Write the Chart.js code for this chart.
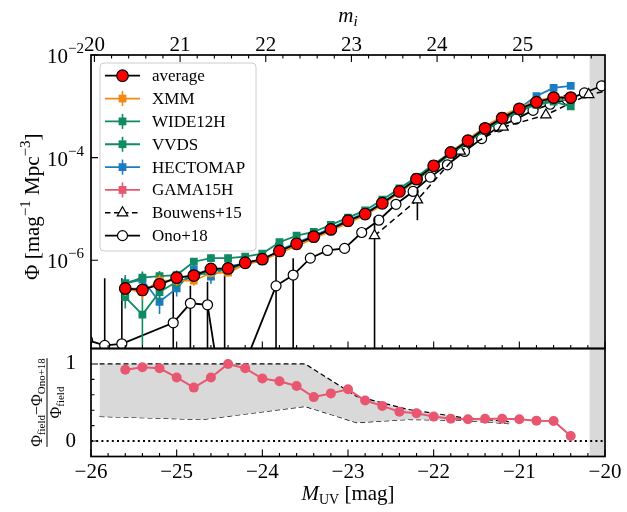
<!DOCTYPE html>
<html>
<head>
<meta charset="utf-8">
<script src="https://cdn.jsdelivr.net/npm/chart.js@4.4.0/dist/chart.umd.min.js"></script>
<style>
  html, body { margin: 0; padding: 0; background: #fff; }
</style>
</head>
<body>
<canvas id="lf" width="627" height="512"></canvas>
<script>
// M_UV bins of the field luminosity functions
const fieldM = [-25.6, -25.4, -25.2, -25.0, -24.8, -24.6, -24.4, -24.2, -24.0, -23.8, -23.6, -23.4, -23.2,
  -23.0, -22.8, -22.6, -22.4, -22.2, -22.0, -21.8, -21.6, -21.4, -21.2, -21.0, -20.8, -20.6, -20.4];

// log10 Phi  [mag^-1 Mpc^-3]
const avgLog  = [-6.55, -6.58, -6.47, -6.34, -6.30, -6.17, -6.16, -6.05, -5.98, -5.82, -5.68, -5.54, -5.40,
  -5.23, -5.10, -4.89, -4.66, -4.42, -4.16, -3.90, -3.67, -3.43, -3.23, -3.05, -2.92, -2.83, -2.83];
const xmmLog  = [-6.56, -6.62, -6.40, -6.40, -6.40, -6.25, -6.24, -6.08, -6.00, -5.86, -5.72, -5.58, -5.43,
  -5.27, -5.13, -4.92, -4.68, -4.43, -4.16, -3.89, -3.65, -3.40, -3.19, -3.02, -2.89, -2.82, -2.81];
const wideLog = [-6.45, -6.34, -6.31, -6.29, -6.03, -5.96, -5.96, -5.93, -5.87, -5.65, -5.52, -5.45, -5.31,
  -5.17, -5.03, -4.82, -4.60, -4.38, -4.13, -3.90, -3.69, -3.46, -3.27, -3.09, -2.97, -2.91, -3.00];
const vvdsLog = [-6.72, -7.06, -6.62, -6.42, -6.33, -6.20, -6.19, -6.07, -5.99, -5.83, -5.69, -5.56, -5.41,
  -5.25, -5.11, -4.90, -4.68, -4.44, -4.18, -3.93, -3.70, -3.46, -3.26, -3.09, -2.96, -2.88, -2.88];
const hectLog = [-6.45, -6.38, -6.81, -6.55, -6.19, -6.32, -6.12, -6.06, -6.02, -5.80, -5.66, -5.52, -5.38,
  -5.22, -5.08, -4.88, -4.65, -4.41, -4.15, -3.89, -3.65, -3.42, -3.22, -3.04, -2.80, -2.64, -2.60];
const gamaLog = [-6.55, -6.56, -6.48, -6.34, -6.30, -6.17, -6.16, -6.05, -5.98, -5.83, -5.69, -5.55, -5.41,
  -5.24, -5.10, -4.89, -4.66, -4.42, -4.16, -3.90, -3.67, -3.43, -3.23, -3.06, -2.93, -2.84, -2.83];

// 1 sigma errors in dex
const xmmErr  = [0.14, 0.15, 0.11, 0.10, 0.10, 0.08, 0.08, 0.06, 0.05, 0.05, 0.04, 0.04, 0.03, 0.03,
  0.03, 0.02, 0.02, 0.02, 0.02, 0.02, 0.02, 0.02, 0.02, 0.02, 0.03, 0.03, 0.04];
const wideErr = [0.12, 0.12, 0.10, 0.09, 0.07, 0.07, 0.07, 0.06, 0.05, 0.05, 0.04, 0.04, 0.03, 0.03,
  0.03, 0.02, 0.02, 0.02, 0.02, 0.02, 0.02, 0.02, 0.03, 0.03, 0.03, 0.04, 0.05];
const vvdsErr = [0.22, 0.60, 0.20, 0.14, 0.12, 0.10, 0.09, 0.07, 0.06, 0.05, 0.05, 0.04, 0.04, 0.03,
  0.03, 0.03, 0.02, 0.02, 0.02, 0.02, 0.02, 0.02, 0.03, 0.03, 0.03, 0.04, 0.05];
const hectErr = [0.16, 0.14, 0.24, 0.16, 0.12, 0.14, 0.10, 0.08, 0.07, 0.06, 0.05, 0.04, 0.04, 0.03,
  0.03, 0.03, 0.02, 0.02, 0.02, 0.02, 0.02, 0.03, 0.03, 0.03, 0.04, 0.05, 0.06];
const gamaErr = [0.10, 0.10, 0.09, 0.08, 0.07, 0.06, 0.06, 0.05, 0.04, 0.04, 0.03, 0.03, 0.03, 0.02,
  0.02, 0.02, 0.02, 0.02, 0.02, 0.02, 0.02, 0.02, 0.02, 0.02, 0.03, 0.03, 0.04];

// Ono+18 (log10 Phi, with upper / lower ends of the error bar, -12 = consistent with zero)
const onoM   = [-26.04, -25.84, -25.64, -25.04, -24.84, -24.64, -24.44, -23.84, -23.64, -23.44, -23.24, -23.04, -22.84,
  -22.64, -22.44, -22.24, -22.04, -21.84, -21.64, -21.44, -21.24, -21.04, -20.84, -20.64, -20.44, -20.24, -20.04];
const onoLog = [-7.56, -7.66, -7.63, -7.22, -6.84, -6.87, -9.00, -6.50, -6.29, -5.96, -5.81, -5.77, -5.46,
  -5.22, -4.91, -4.66, -4.38, -4.14, -3.88, -3.63, -3.40, -3.25, -3.08, -2.96, -2.87, -2.74, -2.60];
const onoUp  = [null, -6.35, -6.35, -6.30, -6.50, -6.42, -6.22, -5.66, -5.96, -5.90, -5.76, -5.72, -5.42,
  -5.19, -4.88, -4.64, -4.36, -4.12, -3.86, -3.61, -3.38, -3.23, -3.06, -2.94, -2.85, -2.72, -2.58];
const onoLo  = [null, -12, -12, -12, -12, -12, -12, -12, -12, -6.03, -5.87, -5.83, -5.50,
  -5.25, -4.94, -4.68, -4.40, -4.16, -3.90, -3.65, -3.42, -3.27, -3.10, -2.98, -2.89, -2.76, -2.62];

// Bouwens+15, z~4
const bouM   = [-22.69, -22.19, -21.69, -21.19, -20.69, -20.19, -19.69];
const bouPhi = [0.000003, 0.000015, 0.000134, 0.000393, 0.000678, 0.001696, 0.002475];
const bouErr = [0.000004, 0.000009, 0.000023, 0.000034, 0.000063, 0.000108, 0.000162];

// lower panel: (Phi_field - Phi_Ono+18) / Phi_field
const ratio = [0.925, 0.956, 0.943, 0.825, 0.693, 0.825, 1.0, 0.943, 0.811, 0.776, 0.715, 0.570, 0.618,
  0.671, 0.526, 0.456, 0.380, 0.360, 0.317, 0.290, 0.283, 0.290, 0.290, 0.283, 0.265, 0.260, 0.065];
const bandM  = [-25.9, -24.7, -23.5, -22.9, -22.3, -21.7, -21.1];
const bandHi = [1.0, 1.0, 1.0, 0.58, 0.41, 0.31, 0.25];
const bandLo = [0.32, 0.28, 0.45, 0.24, 0.28, 0.27, 0.225];

const xTicks = [-26, -25, -24, -23, -22, -21, -20];
const mTicks = [20, 21, 22, 23, 24, 25];
const phiTicks = [1e-6, 1e-4, 1e-2];
const ratioTicks = [0, 1];
const maskRange = [-20.18, -20];
const mOffset = 45.96;   // m_i = M_UV + mOffset

const SERIF = "'Liberation Serif', 'Times New Roman', serif";
Chart.defaults.font.family = SERIF;
Chart.defaults.color = '#000';

function logPts(xs, logs) {
  return xs.map((x, i) => ({ x: x, y: Math.pow(10, logs[i]) }));
}

function field(label, color, logs, err) {
  return {
    label: label,
    data: logPts(fieldM, logs),
    borderColor: color,
    backgroundColor: color,
    borderWidth: 1.8,
    pointStyle: 'rect',
    pointRadius: 5.5,
    pointBorderWidth: 0,
    pointBackgroundColor: color,
    errLo: logs.map((v, i) => Math.pow(10, v - err[i])),
    errHi: logs.map((v, i) => Math.pow(10, v + err[i])),
    errColor: color,
    legendErr: true,
    xAxisID: 'x',
    yAxisID: 'y'
  };
}

const datasets = [
  {
    label: 'average',
    data: logPts(fieldM, avgLog),
    borderColor: '#000',
    borderWidth: 1.8,
    pointStyle: 'circle',
    pointRadius: 5.8,
    pointBackgroundColor: '#ff0000',
    pointBorderColor: '#000',
    pointBorderWidth: 1.2,
    xAxisID: 'x', yAxisID: 'y'
  },
  field('XMM', '#f08a12', xmmLog, xmmErr),
  field('WIDE12H', '#0f8a62', wideLog, wideErr),
  field('VVDS', '#0f8a62', vvdsLog, vvdsErr),
  field('HECTOMAP', '#1b7cc1', hectLog, hectErr),
  field('GAMA15H', '#e8576f', gamaLog, gamaErr),
  {
    label: 'Bouwens+15',
    data: bouM.map((x, i) => ({ x: x, y: bouPhi[i] })),
    borderColor: '#000',
    borderWidth: 1.5,
    borderDash: [6, 4],
    pointStyle: 'triangle',
    pointRadius: 6,
    pointBackgroundColor: '#fff',
    pointBorderColor: '#000',
    pointBorderWidth: 1.2,
    errLo: bouPhi.map((v, i) => Math.max(v - bouErr[i], 1e-12)),
    errHi: bouPhi.map((v, i) => v + bouErr[i]),
    errColor: '#000',
    xAxisID: 'x', yAxisID: 'y'
  },
  {
    label: 'Ono+18',
    data: logPts(onoM, onoLog),
    borderColor: '#000',
    borderWidth: 1.8,
    pointStyle: 'circle',
    pointRadius: 5,
    pointBackgroundColor: '#fff',
    pointBorderColor: '#000',
    pointBorderWidth: 1.2,
    errLo: onoLo.map(v => v === null ? null : Math.pow(10, v)),
    errHi: onoUp.map(v => v === null ? null : Math.pow(10, v)),
    errColor: '#000',
    xAxisID: 'x', yAxisID: 'y'
  },
  // lower panel
  {
    label: 'ratio',
    data: fieldM.map((x, i) => ({ x: x, y: ratio[i] })),
    borderColor: '#e8576f',
    borderWidth: 2,
    pointStyle: 'circle',
    pointRadius: 5,
    pointBackgroundColor: '#e8576f',
    pointBorderWidth: 0,
    hideLegend: true,
    xAxisID: 'x', yAxisID: 'y2'
  },
  {
    label: 'band_hi',
    data: bandM.map((x, i) => ({ x: x, y: bandHi[i] })),
    borderColor: '#000',
    borderWidth: 1.2,
    borderDash: [5, 3],
    pointRadius: 0,
    fill: '+1',
    backgroundColor: '#d9d9d9',
    hideLegend: true,
    xAxisID: 'x', yAxisID: 'y2'
  },
  {
    label: 'band_lo',
    data: bandM.map((x, i) => ({ x: x, y: bandLo[i] })),
    borderColor: '#000',
    borderWidth: 1.2,
    borderDash: [5, 3],
    pointRadius: 0,
    fill: false,
    hideLegend: true,
    xAxisID: 'x', yAxisID: 'y2'
  },
  {
    label: 'zero',
    data: [{ x: xTicks[0], y: 0 }, { x: xTicks[xTicks.length - 1], y: 0 }],
    borderColor: '#000',
    borderWidth: 2,
    borderDash: [2, 3.2],
    pointRadius: 0,
    hideLegend: true,
    xAxisID: 'x', yAxisID: 'y2'
  }
];

function minus(v) {
  return v < 0 ? '\u2212' + Math.abs(v) : String(v);
}

function setTicks(list) {
  return function (scale) {
    scale.ticks = list.map(v => ({ value: v }));
  };
}

function fixW(w) { return function (s) { s.width = w; }; }
function fixH(h) { return function (s) { s.height = h; }; }

// rich text helpers (sub/superscripts)
function richWidth(ctx, segs) {
  let w = 0;
  segs.forEach(s => { ctx.font = s.font; w += ctx.measureText(s.t).width; });
  return w;
}
function richDraw(ctx, segs, x, y) {
  segs.forEach(s => {
    ctx.font = s.font;
    ctx.fillText(s.t, x, y + (s.dy || 0));
    x += ctx.measureText(s.t).width;
  });
}
const F = (px, it) => (it ? 'italic ' : '') + px + 'px ' + SERIF;

const deco = {
  id: 'deco',
  beforeDatasetsDraw(chart) {
    const ctx = chart.ctx, x = chart.scales.x, a = chart.chartArea;
    const x0 = x.getPixelForValue(maskRange[0]), x1 = x.getPixelForValue(maskRange[1]);
    ctx.save();
    ctx.fillStyle = '#d9d9d9';
    ctx.fillRect(x0, a.top, x1 - x0, a.bottom - a.top);
    ctx.restore();
  },
  beforeDatasetDraw(chart, args) {
    const ds = chart.data.datasets[args.index];
    if (!ds.errLo) return;
    const ctx = chart.ctx, xs = args.meta.xScale, ys = args.meta.yScale;
    ctx.save();
    ctx.beginPath();
    ctx.rect(xs.left, ys.top, xs.right - xs.left, ys.bottom - ys.top);
    ctx.clip();
    ctx.strokeStyle = ds.errColor;
    ctx.lineWidth = 1.6;
    ctx.beginPath();
    ds.data.forEach((p, i) => {
      const lo = ds.errLo[i], hi = ds.errHi[i];
      if (lo === null || hi === null) return;
      const px = xs.getPixelForValue(p.x);
      ctx.moveTo(px, Math.min(ys.getPixelForValue(lo), ys.bottom + 5));
      ctx.lineTo(px, ys.getPixelForValue(hi));
    });
    ctx.stroke();
    ctx.restore();
  },
  afterDraw(chart) {
    const ctx = chart.ctx, s = chart.scales;
    const x = s.x, xt = s.xTop, y = s.y, y2 = s.y2;
    const L = x.left, R = x.right;
    ctx.save();

    // inward ticks
    ctx.strokeStyle = '#000';
    ctx.lineWidth = 1.1;
    ctx.beginPath();
    for (let k = 0; k <= 30; k++) {
      const v = xTicks[0] + k * 0.2;
      const len = k % 5 === 0 ? 7 : 3.5;
      const px = x.getPixelForValue(v);
      ctx.moveTo(px, y2.bottom); ctx.lineTo(px, y2.bottom - len);
      ctx.moveTo(px, y.bottom); ctx.lineTo(px, y.bottom - len);
    }
    for (let k = 0; k <= 30; k++) {
      const v = mTicks[0] + k * 0.2;
      const px = xt.getPixelForValue(v);
      if (px < L || px > R) continue;
      ctx.moveTo(px, y.top); ctx.lineTo(px, y.top + (k % 5 === 0 ? 7 : 3.5));
    }
    phiTicks.forEach(v => {
      const py = y.getPixelForValue(v);
      ctx.moveTo(L, py); ctx.lineTo(L + 7, py);
    });
    for (let k = 0; k <= 5; k++) {
      const py = y2.getPixelForValue(k * 0.2);
      ctx.moveTo(L, py); ctx.lineTo(L + (k % 5 === 0 ? 7 : 3.5), py);
    }
    ctx.stroke();

    // frames
    ctx.lineWidth = 1.7;
    ctx.strokeRect(L, y.top, R - L, y.bottom - y.top);
    ctx.strokeRect(L, y2.top, R - L, y2.bottom - y2.top);

    // log tick labels 10^-n
    ctx.fillStyle = '#000';
    ctx.textAlign = 'left';
    ctx.textBaseline = 'alphabetic';
    phiTicks.forEach(v => {
      const py = y.getPixelForValue(v);
      const segs = [{ t: '10', font: F(21) }, { t: minus(Math.round(Math.log10(v))), font: F(15), dy: -10 }];
      const w = richWidth(ctx, segs);
      richDraw(ctx, segs, L - 7 - w, py + 8);
    });

    // axis titles
    let segs = [{ t: 'M', font: F(21, true) }, { t: 'UV', font: F(14), dy: 4 }, { t: ' [mag]', font: F(21) }];
    richDraw(ctx, segs, (L + R) / 2 - richWidth(ctx, segs) / 2, 500);

    segs = [{ t: 'm', font: F(21, true) }, { t: 'i', font: F(15, true), dy: 4 }];
    richDraw(ctx, segs, (L + R) / 2 - richWidth(ctx, segs) / 2, 22);

    ctx.save();
    ctx.translate(39, (y.top + y.bottom) / 2 + 5);
    ctx.rotate(-Math.PI / 2);
    segs = [{ t: '\u03A6 [mag', font: F(21) }, { t: '\u22121', font: F(15), dy: -9 },
      { t: ' Mpc', font: F(21) }, { t: '\u22123', font: F(15), dy: -9 }, { t: ']', font: F(21) }];
    richDraw(ctx, segs, -richWidth(ctx, segs) / 2, 0);
    ctx.restore();

    ctx.save();
    ctx.translate(47, (y2.top + y2.bottom) / 2);
    ctx.rotate(-Math.PI / 2);
    const num = [{ t: '\u03A6', font: F(16) }, { t: 'field', font: F(11), dy: 3 },
      { t: '\u2212\u03A6', font: F(16) }, { t: 'Ono+18', font: F(11), dy: 3 }];
    const den = [{ t: '\u03A6', font: F(16) }, { t: 'field', font: F(11), dy: 3 }];
    const nw = richWidth(ctx, num), dw = richWidth(ctx, den);
    richDraw(ctx, num, -nw / 2, -5);
    richDraw(ctx, den, -dw / 2, 14);
    ctx.lineWidth = 1;
    ctx.beginPath(); ctx.moveTo(-nw / 2, 0); ctx.lineTo(nw / 2, 0); ctx.stroke();
    ctx.restore();

    // legend
    const lx = 100, ly = 63, lw = 156, lh = 188;
    ctx.beginPath();
    ctx.roundRect(lx, ly, lw, lh, 4);
    ctx.fillStyle = 'rgba(255,255,255,0.85)';
    ctx.fill();
    ctx.strokeStyle = '#cccccc';
    ctx.lineWidth = 1;
    ctx.stroke();
    chart.data.datasets.filter(d => !d.hideLegend).forEach((d, i) => {
      const cy = ly + 12.7 + i * 22.85, mx = 122.5;
      ctx.strokeStyle = d.borderColor;
      ctx.lineWidth = d.borderWidth;
      ctx.setLineDash(d.borderDash ? [5.5, 3.5] : []);
      ctx.beginPath(); ctx.moveTo(105, cy); ctx.lineTo(140, cy); ctx.stroke();
      ctx.setLineDash([]);
      if (d.legendErr) {
        ctx.lineWidth = 1.6;
        ctx.beginPath(); ctx.moveTo(mx, cy - 7.5); ctx.lineTo(mx, cy + 7.5); ctx.stroke();
      }
      ctx.fillStyle = d.pointBackgroundColor;
      ctx.strokeStyle = d.pointBorderColor || d.borderColor;
      ctx.lineWidth = d.pointBorderWidth;
      Chart.helpers.drawPoint(ctx, { pointStyle: d.pointStyle, radius: d.pointRadius, rotation: 0,
        borderWidth: d.pointBorderWidth }, mx, cy);
      ctx.fillStyle = '#000';
      ctx.font = F(17);
      ctx.textBaseline = 'middle';
      ctx.fillText(d.label, 152, cy + 1);
      ctx.textBaseline = 'alphabetic';
    });
    ctx.restore();
  }
};

new Chart(document.getElementById('lf'), {
  type: 'line',
  data: { datasets: datasets },
  options: {
    responsive: false,
    animation: false,
    devicePixelRatio: 1,
    layout: { padding: { left: 0, right: 22, top: 0, bottom: 0 } },
    elements: { line: { tension: 0 } },
    plugins: { legend: { display: false }, tooltip: { enabled: false } },
    scales: {
      x: {
        type: 'linear', position: 'bottom', min: xTicks[0], max: xTicks[xTicks.length - 1],
        afterBuildTicks: setTicks(xTicks), afterFit: fixH(55.5),
        grid: { display: false }, border: { display: false },
        ticks: { callback: v => minus(v), font: { size: 21 }, padding: -5, autoSkip: false, maxRotation: 0 }
      },
      xTop: {
        type: 'linear', position: 'top', min: xTicks[0] + mOffset, max: xTicks[xTicks.length - 1] + mOffset,
        afterBuildTicks: setTicks(mTicks), afterFit: fixH(55),
        grid: { display: false }, border: { display: false },
        ticks: { font: { size: 21 }, padding: -11, autoSkip: false, maxRotation: 0 }
      },
      y: {
        type: 'logarithmic', position: 'left', stack: 'panels', stackWeight: 293.5, weight: 2,
        min: 1.9e-8, max: 1e-2,
        afterBuildTicks: setTicks(phiTicks), afterFit: fixW(91),
        grid: { display: false }, border: { display: false },
        ticks: { display: false }
      },
      y2: {
        type: 'linear', position: 'left', stack: 'panels', stackWeight: 108, weight: 1,
        min: -0.2, max: 1.2,
        afterBuildTicks: setTicks(ratioTicks), afterFit: fixW(91),
        grid: { display: false }, border: { display: false },
        ticks: { font: { size: 21 }, padding: 7 }
      }
    }
  },
  plugins: [deco]
});
</script>
</body>
</html>
